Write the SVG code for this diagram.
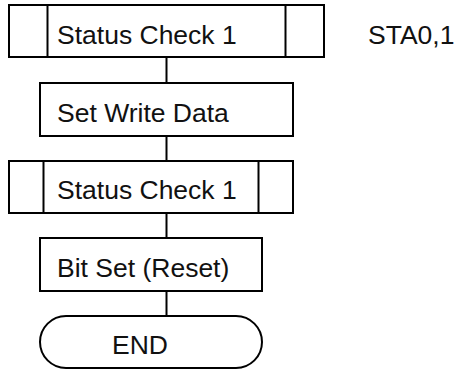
<svg xmlns="http://www.w3.org/2000/svg" width="456" height="370" viewBox="0 0 456 370">
<style>
.box{fill:#fff;stroke:#000;stroke-width:2}
.ln{fill:none;stroke:#000;stroke-width:2}
.t{font-family:"Liberation Sans",Arial,sans-serif;font-size:26.5px;fill:#111}
</style>
<rect width="456" height="370" fill="#fff"/>
<g id="connectors">
<line class="ln" x1="166.5" y1="57" x2="166.5" y2="83"/>
<line class="ln" x1="166.5" y1="136" x2="166.5" y2="161"/>
<line class="ln" x1="166.5" y1="213" x2="166.5" y2="238"/>
<line class="ln" x1="166.5" y1="291" x2="166.5" y2="316"/>
</g>
<g id="status1">
<rect class="box" x="9" y="5" width="315" height="52"/>
<line class="ln" x1="47.5" y1="5" x2="47.5" y2="57"/>
<line class="ln" x1="285.5" y1="5" x2="285.5" y2="57"/>
<text class="t" x="57" y="44">Status Check 1</text>
</g>
<g id="note">
<text class="t" x="368" y="44">STA0,1</text>
</g>
<g id="setwrite">
<rect class="box" x="40" y="83" width="253" height="53"/>
<text class="t" x="57" y="122">Set Write Data</text>
</g>
<g id="status2">
<rect class="box" x="9" y="161" width="284" height="52"/>
<line class="ln" x1="43.5" y1="161" x2="43.5" y2="213"/>
<line class="ln" x1="258.5" y1="161" x2="258.5" y2="213"/>
<text class="t" x="57" y="199">Status Check 1</text>
</g>
<g id="bitset">
<rect class="box" x="40" y="238" width="222" height="53"/>
<text class="t" x="57" y="277">Bit Set (Reset)</text>
</g>
<g id="end">
<rect class="box" x="40" y="316" width="222" height="52" rx="26" ry="26"/>
<text class="t" x="140" y="354" text-anchor="middle">END</text>
</g>
</svg>
